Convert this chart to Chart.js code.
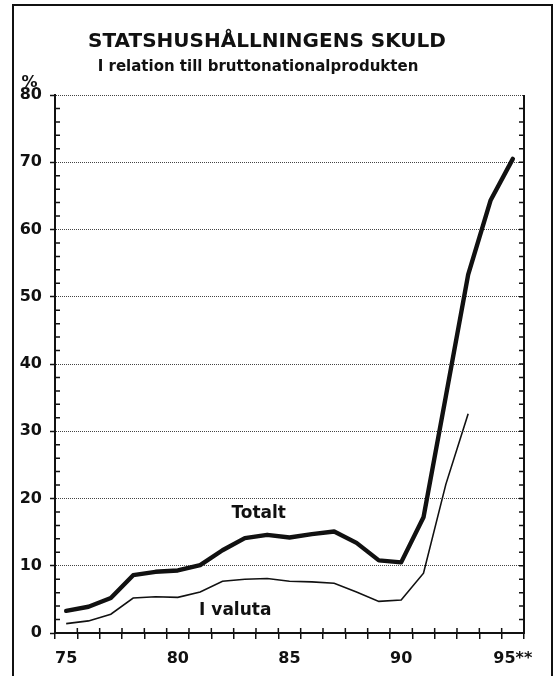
<!DOCTYPE html>
<html>
<head>
<meta charset="utf-8">
<script src="https://cdn.jsdelivr.net/npm/chart.js@4/dist/chart.umd.min.js"></script>
<style>
  html, body { margin: 0; padding: 0; background: #fff; }
  #wrap { position: relative; width: 556px; height: 676px; }
</style>
</head>
<body>
<div id="wrap"><canvas id="chart"></canvas></div>
<script>
// values, % of GDP
const years = ['75', '76', '77', '78', '79', '80', '81', '82', '83', '84', '85', '86', '87', '88', '89', '90', '91', '92', '93', '94', '95**'];
const tickYears = ['75', '80', '85', '90', '95**'];
const totalt = [3.3, 3.9, 5.2, 8.6, 9.1, 9.3, 10.1, 12.3, 14.1, 14.6, 14.2, 14.7, 15.1, 13.4, 10.8, 10.5, 17.2, 35.2, 53.3, 64.3, 70.5];
const iValuta = [1.4, 1.8, 2.8, 5.2, 5.4, 5.3, 6.1, 7.7, 8.0, 8.1, 7.7, 7.6, 7.4, 6.1, 4.7, 4.9, 8.9, 22.1, 32.6, null, null];
const seriesNames = ['Totalt', 'I valuta'];

const titleText = 'STATSHUSHÅLLNINGENS SKULD';
const subtitleText = 'I relation till bruttonationalprodukten';
const unitText = '%';

// where the series names sit, in data units (category index, value)
const nameAnchors = [{ x: 8.62, y: 17.1 }, { x: 7.57, y: 2.7 }];

const ink = '#111';
const fontFam = '"DejaVu Sans", "Liberation Sans", sans-serif';
Chart.defaults.font.family = fontFam;

// frame, titles, inner ticks, right axis
const decor = {
    id: 'decor',
    beforeDraw(chart) {
        const ctx = chart.ctx;
        ctx.save();
        ctx.fillStyle = '#fff';
        ctx.fillRect(0, 0, chart.width, chart.height);
        ctx.strokeStyle = ink;
        ctx.lineWidth = 2;
        ctx.beginPath();
        ctx.moveTo(13, chart.height + 5);
        ctx.lineTo(13, 5);
        ctx.lineTo(552, 5);
        ctx.lineTo(552, chart.height + 5);
        ctx.stroke();
        ctx.restore();
    },
    afterDraw(chart) {
        const ctx = chart.ctx;
        const area = chart.chartArea;
        const xs = chart.scales.x;
        const ys = chart.scales.y;
        ctx.save();
        ctx.fillStyle = ink;
        ctx.textAlign = 'center';
        ctx.textBaseline = 'alphabetic';
        ctx.font = 'bold 20px ' + fontFam;
        ctx.fillText(titleText, 267, 47);
        ctx.font = 'bold 15px ' + fontFam;
        ctx.fillText(subtitleText, 258, 70.5);
        ctx.font = 'bold 16px ' + fontFam;
        ctx.fillText(unitText, 29.5, 86.5);

        // series names
        ctx.font = 'bold 17px ' + fontFam;
        for (let i = 0; i < seriesNames.length; i++) {
            ctx.fillText(seriesNames[i], xs.getPixelForValue(nameAnchors[i].x), ys.getPixelForValue(nameAnchors[i].y));
        };

        // right axis line
        ctx.strokeStyle = ink;
        ctx.lineWidth = 2;
        ctx.beginPath();
        ctx.moveTo(area.right, area.top);
        ctx.lineTo(area.right, area.bottom + 1);
        ctx.stroke();

        // minor ticks every 2 units, pointing inward
        ctx.lineWidth = 1.5;
        ctx.beginPath();
        for (let v = 2; v < 80; v += 2) {
            const py = ys.getPixelForValue(v);
            if (v % 10 != 0) {
                ctx.moveTo(area.left, py);
                ctx.lineTo(area.left + 5, py);
            };
            ctx.moveTo(area.right - 5, py);
            ctx.lineTo(area.right, py);
        };
        // x ticks poke up above the axis too
        for (let i = 0; i < years.length - 1; i++) {
            const px = (xs.getPixelForValue(i) + xs.getPixelForValue(i + 1)) / 2;
            ctx.moveTo(px, area.bottom - 5);
            ctx.lineTo(px, area.bottom);
        };
        ctx.stroke();
        ctx.restore();
    }
};

const chart = new Chart(document.getElementById('chart').getContext('2d'), {
    type: 'line',
    data: {
        labels: years,
        datasets: [{
            label: seriesNames[0],
            data: totalt,
            borderColor: ink,
            borderWidth: 4.4,
            pointRadius: 0,
            tension: 0,
            borderJoinStyle: 'round',
            borderCapStyle: 'round'
        }, {
            label: seriesNames[1],
            data: iValuta,
            borderColor: ink,
            borderWidth: 1.6,
            pointRadius: 0,
            tension: 0
        }]
    },
    options: {
        responsive: true,
        maintainAspectRatio: false,
        animation: false,
        layout: { padding: { top: 95, right: 32, bottom: 10, left: 0 } },
        plugins: { legend: { display: false }, tooltip: { enabled: false } },
        scales: {
            x: {
                offset: true,
                grid: { offset: true, drawOnChartArea: false, color: ink, lineWidth: 1.5, tickLength: 6 },
                border: { color: ink, width: 2 },
                ticks: {
                    autoSkip: false,
                    maxRotation: 0,
                    padding: 10,
                    color: ink,
                    font: { size: 16, weight: 'bold' },
                    callback: function (v) {
                        let l = this.getLabelForValue(v);
                        return tickYears.includes(l) ? l : '';
                    }
                },
                afterFit: function (s) { s.height = 33; }
            },
            y: {
                min: 0,
                max: 80,
                ticks: { stepSize: 10, padding: 8, color: ink, font: { size: 16, weight: 'bold' } },
                grid: {
                    color: (c) => (c.tick && c.tick.value === 0 ? 'rgba(0,0,0,0)' : '#444'),
                    lineWidth: 1,
                    tickColor: ink,
                    tickWidth: 1.5,
                    tickLength: 5
                },
                border: { color: ink, width: 2, dash: [1, 1] },
                afterFit: function (s) { s.width = 55; }
            }
        }
    },
    plugins: [decor]
});
</script>
</body>
</html>
